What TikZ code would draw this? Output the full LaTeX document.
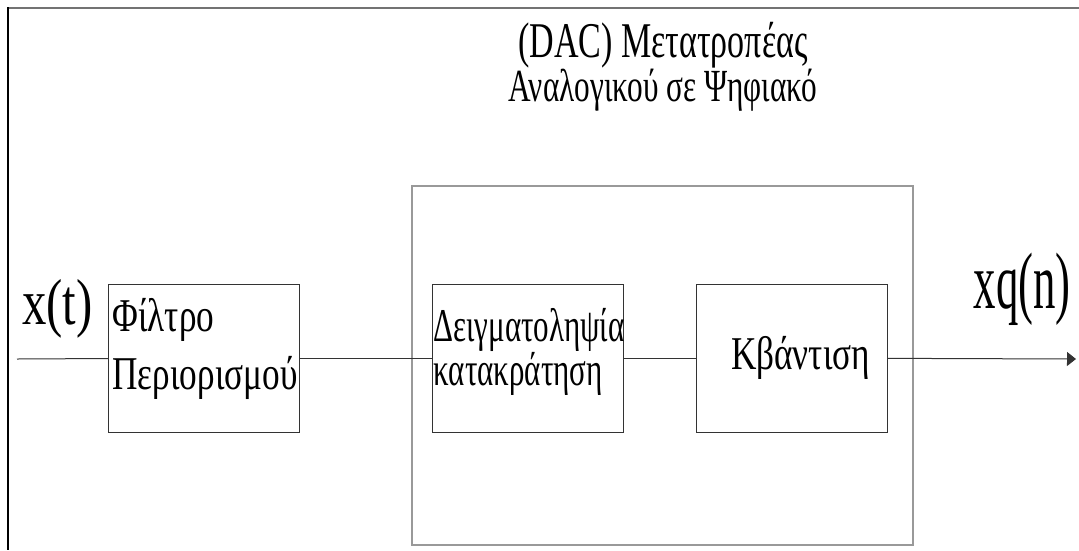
\documentclass[tikz,border=0pt]{standalone}
\usepackage{fontspec}
\setmainfont{Liberation Serif}[FakeStretch=0.75]
\newfontfamily\titleserif{Liberation Serif}[FakeStretch=0.68]
\newfontfamily\narrowserif{Liberation Serif}[FakeStretch=0.66]
\newfontfamily\outserif{Liberation Serif}[FakeStretch=0.56]
\usetikzlibrary{arrows.meta,positioning}

\tikzset{
  block/.style={draw=black!80, line width=1pt, minimum width=191pt, minimum height=148pt, inner sep=4pt},
  signal/.style={draw=black!80, line width=1pt},
}

\begin{document}
\begin{tikzpicture}[x=1pt, y=-1pt]
  \useasboundingbox (0,0) rectangle (1079,550);
  % frame edges
  \draw[black!55, line width=2pt] (1079,8) -- (8,8);
  \draw[black, line width=1.6pt] (8,7) -- (8,550);

  \node[draw=black!40, line width=1.5pt, minimum width=501pt, minimum height=359pt] (dac) at (662.5,365.5) {};

  \node[block, text width=183pt, text depth=86pt, align=left, font=\fontsize{47}{58}\selectfont] (filter) at (204,358)
       {Φίλτρο\\Περιορισμού};
  \node[block, inner xsep=1pt, text width=189pt, text depth=66pt, align=left,
        font=\narrowserif\fontsize{47}{37}\selectfont, right=132pt of filter] (sample)
       {Δειγματοληψία\\κατακράτηση};
  \node[block, font=\fontsize{47}{56}\selectfont, right=72pt of sample] (quant) {\hspace*{17pt}Κβάντιση};

  \node[font=\titleserif\fontsize{46}{40}\selectfont, align=center] (title) at (663,67)
       {{\fontsize{50}{40}\selectfont (DAC) Μετατροπέας}\\Αναλογικού σε Ψηφιακό};

  \coordinate (in)  at (17,359);
  \coordinate (out) at (1076,359);
  \node[anchor=base west, inner sep=0pt, font=\fontsize{65}{65}\selectfont] (xt) at (22,324) {x(t)};
  \node[anchor=base east, inner sep=0pt, font=\outserif\fontsize{80}{80}\selectfont] (xq) at (1071,308) {xq(n)};

  \draw[signal] (in) -- (filter);
  \draw[signal] (filter) -- (sample);
  \draw[signal] (sample) -- (quant);
  \draw[signal, -{Triangle[length=9pt, width=14pt]}] (quant) -- (out);
\end{tikzpicture}
\end{document}
